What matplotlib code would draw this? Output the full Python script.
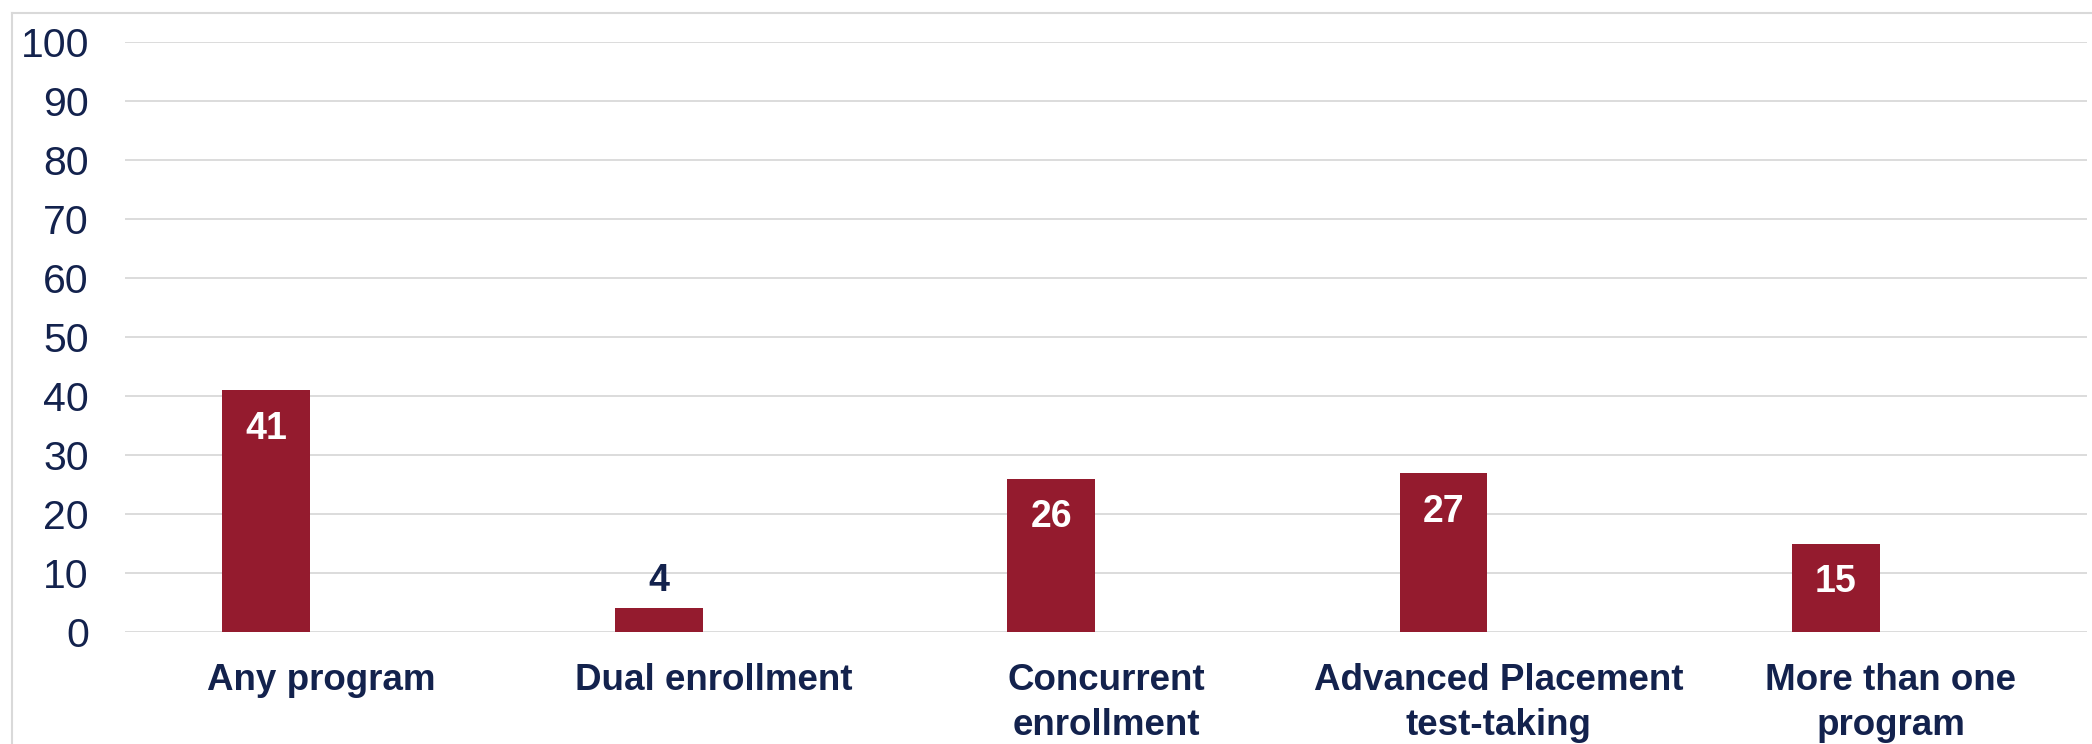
import numpy as np
import matplotlib
matplotlib.use("Agg")
import matplotlib.pyplot as plt
from matplotlib.lines import Line2D

plt.rcParams["font.family"] = ["Liberation Sans", "DejaVu Sans"]

categories = ["Any program", "Dual enrollment", "Concurrent\nenrollment",
              "Advanced Placement\ntest-taking", "More than one\nprogram"]
values = [41, 4, 26, 27, 15]
inside = [True, False, True, True, True]

BAR = "#941b2e"
NAVY = "#13224d"
GRID = "#d9d9d9"

W, H = 2092, 744
fig = plt.figure(figsize=(W / 100, H / 100), dpi=100)
ax = fig.add_axes([125 / W, (H - 632) / H, (2087 - 125) / W, (632 - 42) / H])

x = np.arange(len(categories))
offset = -0.14
bars = ax.bar(x + offset, values, width=0.224, color=BAR, zorder=3)

for b, v, ins in zip(bars, values, inside):
    cx = b.get_x() + b.get_width() / 2
    if ins:
        ax.annotate(f"{v}", (cx, v), xytext=(0, -28), textcoords="offset points",
                    ha="center", va="center", color="white", fontsize=27,
                    fontweight="bold", zorder=4)
    else:
        ax.annotate(f"{v}", (cx, v), xytext=(0, 20), textcoords="offset points",
                    ha="center", va="center", color=NAVY, fontsize=27,
                    fontweight="bold", zorder=4)

ax.set_xlim(-0.5, len(categories) - 0.5)
ax.set_ylim(0, 100)
ax.set_yticks(np.arange(0, 101, 10))
ax.set_xticks(x)
ax.set_xticklabels(categories, fontsize=26.5, fontweight="bold", color=NAVY,
                   linespacing=1.37)
ax.tick_params(axis="x", length=0, pad=22)
ax.tick_params(axis="y", length=0, pad=26, labelsize=29.5, labelcolor=NAVY)
ax.yaxis.grid(True, color=GRID, lw=1.3, zorder=0)
ax.set_axisbelow(True)
for s in ax.spines.values():
    s.set_visible(False)

# outer chart-area border (left and top edges are visible)
fig.add_artist(Line2D([12 / W, 12 / W], [0, 1 - 13 / H], transform=fig.transFigure,
                      color=GRID, lw=1.5))
fig.add_artist(Line2D([12 / W, 1], [1 - 13 / H, 1 - 13 / H], transform=fig.transFigure,
                      color=GRID, lw=1.5))

fig.savefig("out.png", dpi=100)
